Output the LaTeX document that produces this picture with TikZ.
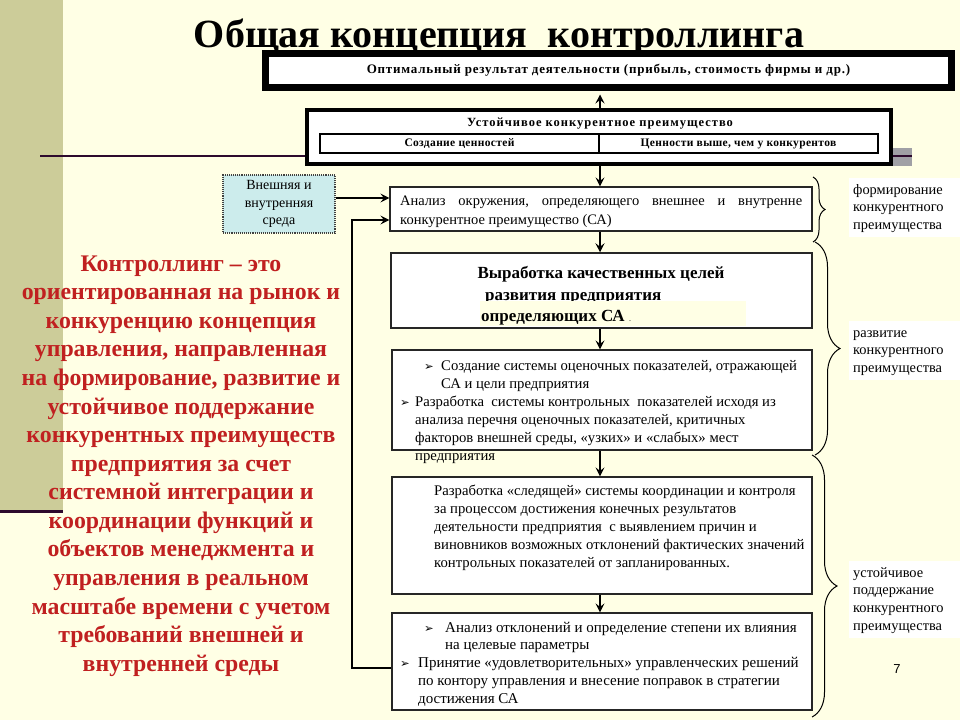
\documentclass[tikz,border=0pt]{standalone}
\usepackage{fontspec}
\setmainfont{Liberation Serif}
\newfontfamily\dejavu{DejaVu Sans}
\newfontfamily\arialf{Liberation Sans}
\usetikzlibrary{arrows.meta,decorations.pathreplacing}
\definecolor{bgcream}{RGB}{255,255,229}
\definecolor{olivestripe}{RGB}{204,204,153}
\definecolor{darkline}{RGB}{45,10,45}
\definecolor{envfill}{RGB}{204,236,236}
\definecolor{redtxt}{RGB}{192,32,32}
\definecolor{bandgray}{RGB}{160,160,165}
\newcommand{\blt}{{\dejavu\fontsize{11.5}{11.5}\selectfont ➢}}
\begin{document}
\begin{tikzpicture}[x=1pt,y=-1pt,
  arr/.style={line width=1.1pt, -{Stealth[length=9pt,width=9pt,inset=3.5pt]}},
  flowbox/.style={draw=black!85, line width=1.2pt, fill=white, inner sep=0pt},
  txt/.style={inner sep=0pt, align=left, anchor=north west, font=\fontsize{14.7}{18}\selectfont},
  lbl/.style={fill=white, inner xsep=4pt, inner ysep=4pt, anchor=north west, text width=103pt, align=left, font=\fontsize{14.4}{17.8}\selectfont},
  brc/.style={decorate, line width=1pt, decoration={brace, amplitude=#1}},
  bh/.style={inner sep=0pt, font=\fontsize{17}{17}\selectfont\bfseries}
]
\fill[bgcream] (0,0) rectangle (960,720);
\useasboundingbox (0,0) rectangle (960,720);
% decorations
\fill[olivestripe] (0,0) rectangle (63,510);
\fill[darkline] (0,510) rectangle (63,513);
\fill[bandgray] (720,148) rectangle (912,166);
\draw[darkline, line width=2pt] (40,156) -- (912,156);
\coordinate (ax) at (600,0);
% title
\node[anchor=base, inner sep=0pt, font=\fontsize{40}{40}\selectfont\bfseries] (title) at (499,47) {Общая концепция\ \ контроллинга};
% box 1
\node[draw, line width=7pt, fill=white, minimum width=686pt, minimum height=34pt, inner sep=0pt, font=\fontsize{13}{13}\selectfont\bfseries\addfontfeature{LetterSpace=6}] (opt) at (608.5,70.5) {Оптимальный результат деятельности (прибыль, стоимость фирмы и др.)};
% box 2
\node[draw, line width=4pt, fill=white, minimum width=584pt, minimum height=54pt] (ust) at (599,137) {};
\node[inner sep=0pt, font=\fontsize{12.5}{12.5}\selectfont\bfseries\addfontfeature{LetterSpace=8}] (usttitle) at (600,124) {Устойчивое конкурентное преимущество};
\node[draw, line width=1.2pt, minimum width=558pt, minimum height=19pt, inner sep=0pt] (sub) at (599,143.5) {};
\draw[line width=1.2pt] (sub.north) -- (sub.south);
\node[inner sep=0pt, font=\fontsize{11.5}{11.5}\selectfont\bfseries\addfontfeature{LetterSpace=3}] (sub1) at (459.5,144) {Создание ценностей};
\node[inner sep=0pt, font=\fontsize{11.5}{11.5}\selectfont\bfseries\addfontfeature{LetterSpace=3}] (sub2) at (738.5,144) {Ценности выше, чем у конкурентов};
% environment box
\node[draw=black!75, densely dotted, line width=1.1pt, fill=envfill, minimum width=112pt, minimum height=58pt, inner sep=0pt, align=center, font=\fontsize{14}{17.5}\selectfont] (env) at (279,204) {Внешняя и\\внутренняя\\среда};
% box 3
\node[flowbox, minimum width=422pt, minimum height=44pt] (b3) at (601,209) {};
\node[txt, font=\fontsize{14.5}{19}\selectfont] (b3t) at (400,191.7) {\strut\hbox to 402pt{Анализ\hfill окружения,\hfill определяющего\hfill внешнее\hfill и\hfill внутренне}\\конкурентное преимущество (СА)};
% box 4
\node[flowbox, line width=1.5pt, minimum width=421pt, minimum height=75pt] (b4) at (601.5,290.5) {};
\node[bh, anchor=base] (b4t1) at (601,278) {Выработка качественных целей};
\node[bh, anchor=base west] (b4t2) at (485,300) {развития предприятия};
\fill[bgcream] (480,301) rectangle (746,326);
\node[bh, anchor=base west] (b4t3) at (481,321) {определяющих СА {\mdseries\fontsize{8}{8}\selectfont .}};
% box 5
\node[flowbox, minimum width=420pt, minimum height=100pt] (b5) at (602,400) {};
\node[txt] (b5t) at (400,357.4) {\strut\hspace*{24pt}\makebox[17pt][l]{\blt}Создание системы оценочных показателей, отражающей\\
\hspace*{41pt}СА и цели предприятия\\
\makebox[15pt][l]{\blt}Разработка\ \ системы контрольных\ \ показателей исходя из\\
\hspace*{15pt}анализа перечня оценочных показателей, критичных\\
\hspace*{15pt}факторов внешней среды, «узких» и «слабых» мест\\
\hspace*{15pt}предприятия};
% box 6
\node[flowbox, minimum width=420pt, minimum height=117pt] (b6) at (602,535.5) {};
\node[txt] (b6t) at (434,482.4) {\strut Разработка «следящей» системы координации и контроля\\
за процессом достижения конечных результатов\\
деятельности предприятия\ \ с выявлением причин и\\
виновников возможных отклонений фактических значений\\
контрольных показателей от запланированных.};
% box 7
\node[flowbox, minimum width=420pt, minimum height=97pt] (b7) at (602,661.5) {};
\node[txt, font=\fontsize{15}{17.8}\selectfont] (b7t) at (400,619.5) {\strut\hspace*{24pt}\makebox[21pt][l]{\blt}Анализ отклонений и определение степени их влияния\\
\hspace*{45pt}на целевые параметры\\
\makebox[18pt][l]{\blt}Принятие «удовлетворительных» управленческих решений\\
\hspace*{18pt}по контору управления и внесение поправок в стратегии\\
\hspace*{18pt}достижения СА};
% connectors
\coordinate (e1) at (0,198);
\coordinate (fb1) at (352,668);
\coordinate (fb2) at (352,220);
\draw[arr, shorten >=3.5pt] (ust.north -| ax) -- (opt.south -| ax);
\draw[arr] (ust.south -| ax) -- (b3.north -| ax);
\draw[arr] (b3.south -| ax) -- (b4.north -| ax);
\draw[arr] (b4.south -| ax) -- (b5.north -| ax);
\draw[arr] (b5.south -| ax) -- (b6.north -| ax);
\draw[arr] (b6.south -| ax) -- (b7.north -| ax);
\draw[arr] (env.east |- e1) -- (b3.west |- e1);
\draw[arr] (b7.west |- fb1) -- (fb1) -- (fb2) -- (b3.west |- fb2);
% braces
\draw[brc=12pt] (813,177) -- (813,242);
\draw[brc=25pt] (815,242) -- (815,455);
\draw[brc=25pt] (812,455) -- (812,717);
% right labels
\node[lbl] (l1) at (849,177.4) {\strut формирование\\конкурентного\\преимущества};
\node[lbl] (l2) at (849,320.4) {\strut развитие\\конкурентного\\преимущества};
\node[lbl] (l3) at (849,560.4) {\strut устойчивое\\поддержание\\конкурентного\\преимущества};
\node[inner sep=0pt, font=\arialf\fontsize{13}{13}\selectfont] (pnum) at (897,669) {7};
% red text
\node[anchor=north, inner sep=0pt, align=center, text=redtxt, font=\fontsize{23.8}{28.57}\selectfont\bfseries] (def) at (181,251) {\strut Контроллинг – это\\
ориентированная на рынок и\\
конкуренцию концепция\\
управления, направленная\\
на формирование, развитие и\\
устойчивое поддержание\\
конкурентных преимуществ\\
предприятия за счет\\
системной интеграции и\\
координации функций и\\
объектов менеджмента и\\
управления в реальном\\
масштабе времени с учетом\\
требований внешней и\\
внутренней среды};
\end{tikzpicture}
\end{document}
